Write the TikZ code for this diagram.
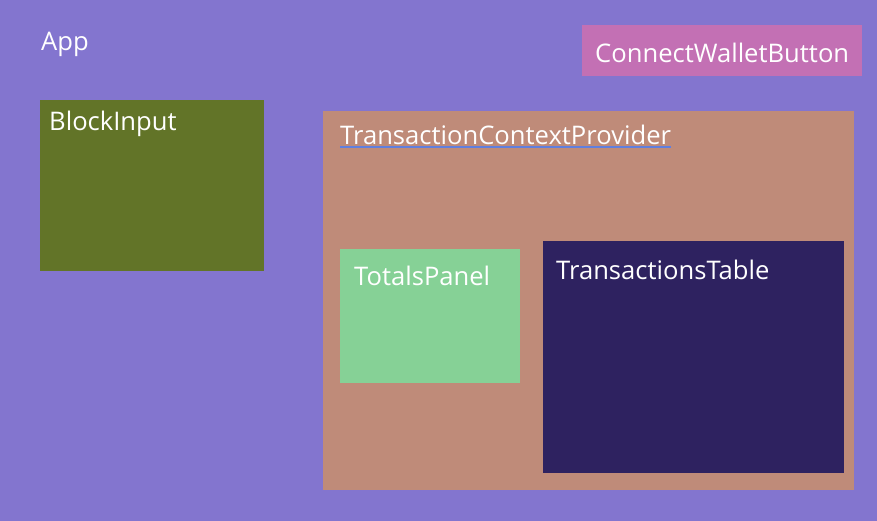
\documentclass[tikz,border=0pt]{standalone}
\usepackage{fontspec}
\setmainfont{Open Sans}
\definecolor{appbg}{HTML}{8375CF}
\definecolor{cwb}{HTML}{C370B4}
\definecolor{blk}{HTML}{627428}
\definecolor{tcp}{HTML}{BF8B79}
\definecolor{tot}{HTML}{86D196}
\definecolor{ttab}{HTML}{2E2260}
\definecolor{uline}{HTML}{5F7FE0}
\begin{document}
\begin{tikzpicture}[x=1pt,y=-1pt,
  lbl/.style={anchor=base west,inner sep=0pt,text=white,font=\fontsize{25.6}{28}\selectfont}]
\useasboundingbox (0,0) rectangle (877,521);
\fill[appbg] (0,0) rectangle (877,521);
\node[lbl] (app) at (41,51) {App};
\fill[cwb] (582,25) rectangle (862,76);
\node[lbl] (cwbl) at (595,63) {ConnectWalletButton};
\fill[blk] (40,100) rectangle (264,271);
\node[lbl] (blkl) at (49,131) {BlockInput};
\fill[tcp] (323,111) rectangle (854,490);
\node[lbl] (tcpl) at (340,145) {TransactionContextProvider};
\draw[draw=uline,line width=1.5pt] ([yshift=-2pt]tcpl.base west) -- ([yshift=-2pt]tcpl.base east);
\fill[tot] (340,249) rectangle (520,383);
\node[lbl] (totl) at (354,285) {TotalsPanel};
\fill[ttab] (543,241) rectangle (844,473);
\node[lbl] (ttabl) at (556,279) {TransactionsTable};
\end{tikzpicture}
\end{document}
